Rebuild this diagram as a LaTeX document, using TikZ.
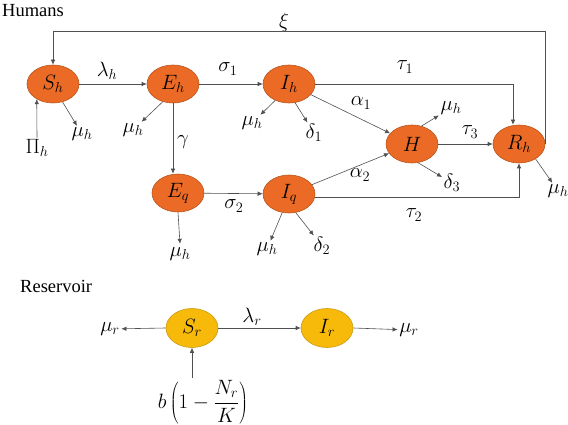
\documentclass[tikz,border=0pt]{standalone}
\usepackage{fontspec}
\setmainfont{Liberation Serif}
\usetikzlibrary{arrows.meta,shapes.geometric}
\definecolor{orgfill}{HTML}{EB6A25}
\definecolor{orgline}{HTML}{B8561E}
\definecolor{yelfill}{HTML}{F7BA0B}
\definecolor{yelline}{HTML}{C99A10}
\definecolor{lin}{HTML}{505050}
\tikzset{
  hum/.style={ellipse,draw=orgline,fill=orgfill,line width=0.6pt,minimum width=52pt,minimum height=38pt,inner sep=0pt,font=\fontsize{20}{24}\selectfont},
  res/.style={ellipse,draw=yelline,fill=yelfill,line width=0.6pt,minimum width=52pt,minimum height=39pt,inner sep=0pt,font=\fontsize{20}{24}\selectfont},
  lab/.style={inner sep=1.5pt,font=\fontsize{20}{24}\selectfont},
  ttl/.style={inner sep=0pt,anchor=west,font=\fontsize{18.5}{22}\selectfont},
  arr/.style={draw=lin,line width=0.6pt,-{Latex[length=5pt,width=4.5pt]}},
}
\begin{document}
\begin{tikzpicture}[x=1pt,y=-1pt]
\useasboundingbox (0,0) rectangle (568,425);
% titles
\node[ttl] (thum) at (2,11) {Humans};
\node[ttl] (tres) at (20,286) {Reservoir};
% compartments
\node[hum] (Sh) at (53,84) {$S_h$};
\node[hum] (Eh) at (173,84) {$E_h$};
\node[hum] (Ih) at (289,84) {$I_h$};
\node[hum] (H)  at (412,144) {$H$};
\node[hum] (Rh) at (519,144) {$R_h$};
\node[hum] (Eq) at (178,193) {$E_q$};
\node[hum] (Iq) at (289,194) {$I_q$};
\node[res] (Sr) at (192,328) {$S_r$};
\node[res] (Ir) at (327,328) {$I_r$};
% rate labels
\node[lab] (xi)  at (284,22) {$\xi$};
\node[lab] (lh)  at (107,71) {$\lambda_h$};
\node[lab] (s1)  at (228,69) {$\sigma_1$};
\node[lab] (t1)  at (405,67) {$\tau_1$};
\node[lab] (a1)  at (361,103) {$\alpha_1$};
\node[lab] (t3)  at (470,132) {$\tau_3$};
\node[lab] (gm)  at (183,142) {$\gamma$};
\node[lab] (s2)  at (234,206) {$\sigma_2$};
\node[lab] (a2)  at (360,175) {$\alpha_2$};
\node[lab] (t2)  at (414,215) {$\tau_2$};
\node[lab] (lr)  at (252,317) {$\lambda_r$};
% outflow labels
\node[lab] (muSh) at (82,134) {$\mu_h$};
\node[lab] (Pih)  at (37,148) {$\Pi_h$};
\node[lab] (muEh) at (133,130) {$\mu_h$};
\node[lab] (muIh) at (252,123) {$\mu_h$};
\node[lab] (de1)  at (314,133) {$\delta_1$};
\node[lab] (muH)  at (451,108) {$\mu_h$};
\node[lab] (de3)  at (452,183) {$\delta_3$};
\node[lab] (muRh) at (558,191) {$\mu_h$};
\node[lab] (muEq) at (180,254) {$\mu_h$};
\node[lab] (muIq) at (267,249) {$\mu_h$};
\node[lab] (de2)  at (322,246) {$\delta_2$};
\node[lab] (mur1) at (110,329) {$\mu_r$};
\node[lab] (mur2) at (409,330) {$\mu_r$};
\node[lab] (bfr)  at (203,402) {$b\left(1-\displaystyle\frac{N_r}{K}\right)$};
% flows
\draw[arr] (Sh) -- (Eh);
\draw[arr] (Eh) -- (Ih);
\draw[arr] (Eh.south) -- (Eh.south |- Eq.north);
\draw[arr] (Eq) -- (Iq);
\draw[arr] (Ih) -- (H);
\draw[arr] (Iq) -- (H);
\draw[arr] (H) -- (Rh);
\draw[arr] (Ih.east) -| ([xshift=-6pt]Rh.north);
\draw[arr] (Iq.-8) -| (Rh.south);
\draw[arr] (Rh.east) -- (Rh.east |- xi.south) -- ++(0,-2) -| (Sh.north);
\draw[arr] (Sr) -- (Ir);
% outflows
\draw[arr] (Sh.-62) -- (muSh);
\draw[arr] (Pih.north) -- (Sh.-137);
\draw[arr] (Eh.-120) -- (muEh);
\draw[arr] (Ih.-130) -- (muIh);
\draw[arr] (Ih.-72) -- (de1);
\draw[arr] (H.62) -- (muH);
\draw[arr] (H.-72) -- (de3);
\draw[arr] (Rh.-42) -- (muRh);
\draw[arr] (Eq.south) -- ([yshift=2pt]muEq.north);
\draw[arr] (Iq.-110) -- (muIq);
\draw[arr] (Iq.-70) -- (de2);
\draw[arr] (Sr.west) -- (mur1);
\draw[arr] (Ir.east) -- (mur2);
\draw[arr] (Sr.south |- bfr.north) -- (Sr.south);
\end{tikzpicture}
\end{document}
